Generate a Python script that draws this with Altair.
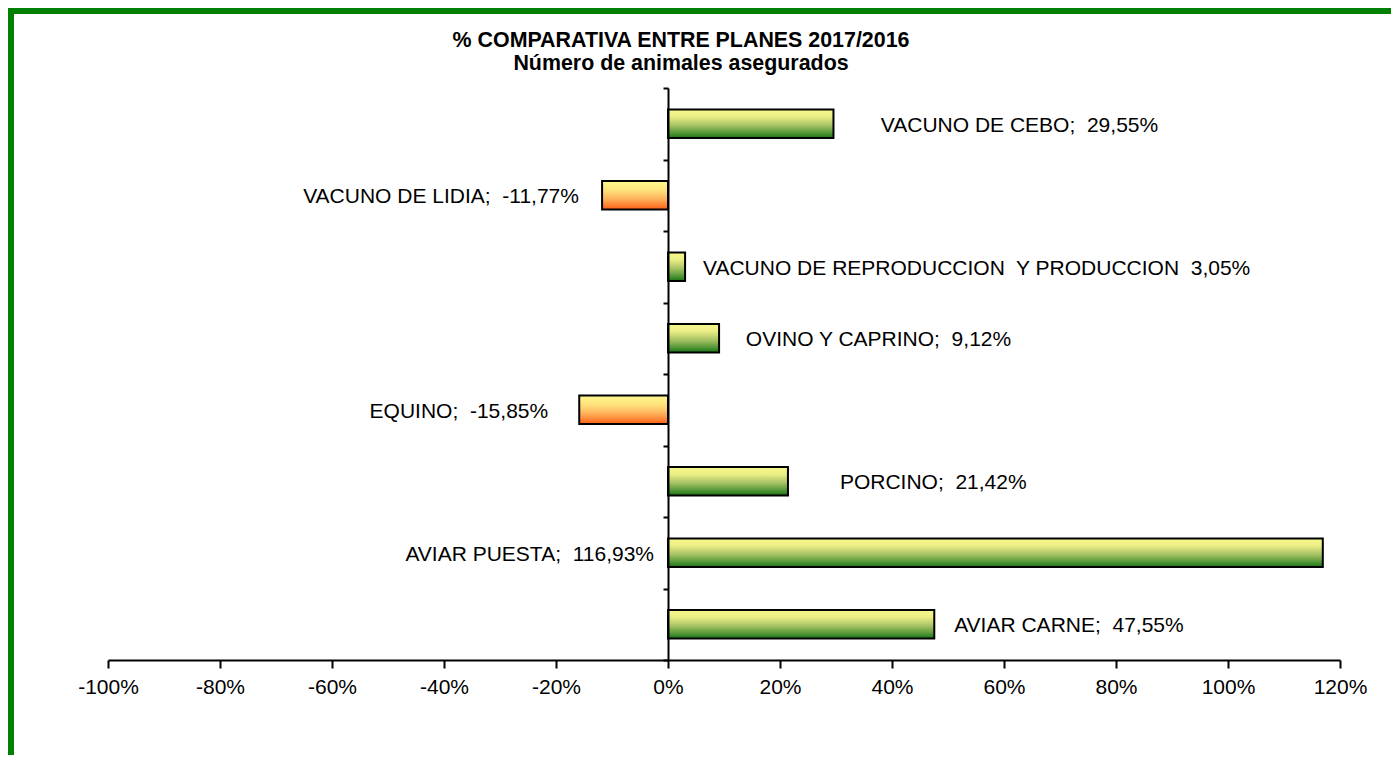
import altair as alt
import pandas as pd

categories = [
    "VACUNO DE CEBO",
    "VACUNO DE LIDIA",
    "VACUNO DE REPRODUCCION  Y PRODUCCION",
    "OVINO Y CAPRINO",
    "EQUINO",
    "PORCINO",
    "AVIAR PUESTA",
    "AVIAR CARNE",
]
values = [29.55, -11.77, 3.05, 9.12, -15.85, 21.42, 116.93, 47.55]
label_texts = [
    "VACUNO DE CEBO;\u00a0 29,55%",
    "VACUNO DE LIDIA;\u00a0 -11,77%",
    "VACUNO DE REPRODUCCION\u00a0 Y PRODUCCION\u00a0 3,05%",
    "OVINO Y CAPRINO;\u00a0 9,12%",
    "EQUINO;\u00a0 -15,85%",
    "PORCINO;\u00a0 21,42%",
    "AVIAR PUESTA;\u00a0 116,93%",
    "AVIAR CARNE;\u00a0 47,55%",
]
# where Excel placed each data label (in % units) and which side of the text is anchored
label_anchor = [38.0, -15.9, 6.25, 13.9, -21.4, 30.7, -2.5, 51.1]
label_side = ["left", "right", "left", "left", "right", "left", "right", "left"]
x_ticks = [-100, -80, -60, -40, -20, 0, 20, 40, 60, 80, 100, 120]
title_lines = ["% COMPARATIVA ENTRE PLANES 2017/2016", "Número de animales asegurados"]

df = pd.DataFrame({
    "cat": categories,
    "value": values,
    "label": label_texts,
    "label_at": label_anchor,
    "side": label_side,
})

FONT = "Liberation Sans"

y_enc = alt.Y(
    "cat:N",
    sort=categories,
    scale=alt.Scale(paddingInner=0, paddingOuter=0),
    axis=alt.Axis(
        title=None, labels=False, offset=-560, tickBand="extent",
        tickSize=5, tickWidth=2, tickColor="black",
        domainColor="black", domainWidth=2, grid=False, zindex=1,
    ),
)
x_scale = alt.Scale(domain=[-100, 120], nice=False, zero=False)
x_axis = alt.Axis(
    title=None, values=x_ticks, labelExpr="datum.value + '%'",
    tickSize=8, tickWidth=2, tickColor="black",
    domainColor="black", domainWidth=2, grid=False,
    labelFont=FONT, labelFontSize=21, labelColor="black", labelPadding=8,
    labelFlush=False, labelOverlap=False, zindex=1,
)

green_grad = alt.Gradient(
    gradient="linear", x1=0, x2=0, y1=0, y2=1,
    stops=[
        alt.GradientStop(color="#F8F88A", offset=0),
        alt.GradientStop(color="#ECEE86", offset=0.25),
        alt.GradientStop(color="#A9C466", offset=0.55),
        alt.GradientStop(color="#5A9A3A", offset=0.8),
        alt.GradientStop(color="#167416", offset=1),
    ],
)
orange_grad = alt.Gradient(
    gradient="linear", x1=0, x2=0, y1=0, y2=1,
    stops=[
        alt.GradientStop(color="#FFF88C", offset=0),
        alt.GradientStop(color="#FFE47E", offset=0.3),
        alt.GradientStop(color="#FFB860", offset=0.6),
        alt.GradientStop(color="#FF8232", offset=0.85),
        alt.GradientStop(color="#FF5A10", offset=1),
    ],
)

base = alt.Chart(df)

bars_pos = base.transform_filter("datum.value >= 0").mark_bar(
    fill=green_grad, stroke="black", strokeWidth=2, height={"band": 0.4}
).encode(
    x=alt.X("value:Q", scale=x_scale, axis=x_axis),
    x2=alt.datum(0),
    y=y_enc,
)
bars_neg = base.transform_filter("datum.value < 0").mark_bar(
    fill=orange_grad, stroke="black", strokeWidth=2, height={"band": 0.4}
).encode(
    x=alt.X("value:Q", scale=x_scale, axis=x_axis),
    x2=alt.datum(0),
    y=y_enc,
)

text_left = base.transform_filter("datum.side == 'left'").mark_text(
    align="left", baseline="middle", font=FONT, fontSize=21, color="black", dy=2
).encode(
    x=alt.X("label_at:Q", scale=x_scale, axis=x_axis),
    y=y_enc,
    text="label:N",
)
text_right = base.transform_filter("datum.side == 'right'").mark_text(
    align="right", baseline="middle", font=FONT, fontSize=21, color="black", dy=2
).encode(
    x=alt.X("label_at:Q", scale=x_scale, axis=x_axis),
    y=y_enc,
    text="label:N",
)

one_row = pd.DataFrame({"k": [0]})
frame_left = alt.Chart(one_row).mark_rule(color="#008000", strokeWidth=6).encode(
    x=alt.value(-97), y=alt.value(-80), y2=alt.value(667)
)
frame_top = alt.Chart(one_row).mark_rule(color="#008000", strokeWidth=6).encode(
    x=alt.value(-100), x2=alt.value(1300), y=alt.value(-77)
)
title_text = alt.Chart(one_row).mark_text(
    font=FONT, fontSize=21.4, fontWeight="bold", color="black",
    align="center", baseline="alphabetic", lineHeight=23,
).encode(
    x=alt.value(573), y=alt.value(-41), text=alt.value(title_lines)
)

chart = alt.layer(
    bars_pos, bars_neg, text_left, text_right, frame_left, frame_top, title_text
).properties(
    width=1232,
    height=572,
    autosize=alt.AutoSizeParams(type="none"),
    padding={"left": 100, "top": 80, "right": 51, "bottom": 95},
).configure_view(stroke=None)

chart.save("out.html", embed_options={"renderer": "svg", "actions": False})
